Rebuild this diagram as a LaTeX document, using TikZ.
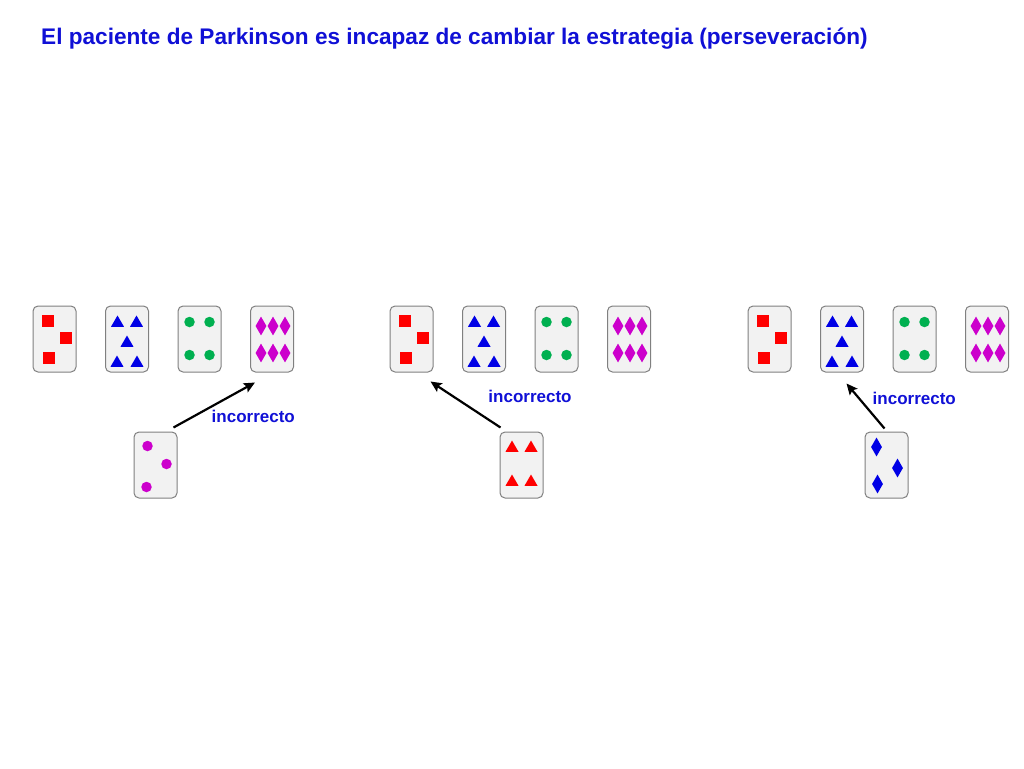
\documentclass[tikz,border=0pt]{standalone}
\usepackage{fontspec}
\setmainfont{Liberation Sans}
\usetikzlibrary{arrows.meta,%
                shapes.geometric}

\definecolor{titleblue}{RGB}{16,16,214}
\definecolor{cardgray}{RGB}{242,242,242}
\definecolor{cardline}{RGB}{128,128,128}
\definecolor{symred}{RGB}{255,0,0}
\definecolor{symblue}{RGB}{0,0,230}
\definecolor{symgreen}{RGB}{0,176,80}
\definecolor{symmag}{RGB}{204,0,204}

\tikzset{card/.style={draw=cardline,fill=cardgray,line width=1pt,rounded corners=5pt,
                      minimum width=43pt,minimum height=66pt,inner sep=0pt},
         sq/.style={fill=symred,minimum size=12pt,inner sep=0pt},
         tri/.style={regular polygon,regular polygon sides=3,fill=#1,minimum size=15pt,inner sep=0pt},
         dot/.style={circle,fill=#1,minimum size=10.5pt,inner sep=0pt},
         dia/.style={diamond,fill=#1,minimum width=11pt,minimum height=19pt,inner sep=0pt},
         choice/.style={-{Stealth[length=11pt,width=10pt,inset=2pt]},line width=2.2pt},
         wrong/.style={text=titleblue,font=\bfseries\fontsize{17}{20}\selectfont,inner sep=0pt}}

\begin{document}
\begin{tikzpicture}[x=1pt,y=-1pt]
\useasboundingbox (0,0) rectangle (1024,768);

\node[anchor=base west,inner sep=0pt,text=titleblue,font=\bfseries\fontsize{22.6}{27}\selectfont]
  (title) at (41,45) {El paciente de Parkinson es incapaz de cambiar la estrategia (perseveración)};

% the four stimulus cards, three times
\foreach \gx/\g in {0/1,357/2,715/3}{
  \node[card] (g\g a) at (54.5+\gx,339) {};
  \node[card] (g\g b) at (127+\gx,339) {};
  \node[card] (g\g c) at (199.5+\gx,339) {};
  \node[card] (g\g d) at (272+\gx,339) {};
  \foreach \dx/\dy in {-7/-18,11.5/-1,-6/19}
    \node[sq] at ([shift={(\dx,\dy)}]g\g a.center) {};
  \foreach \dx/\dy in {-9.5/-16,9.5/-16,0/4,-10/24,10/24}
    \node[tri=symblue] at ([shift={(\dx,\dy)}]g\g b.center) {};
  \foreach \dx/\dy in {-10/-17,10/-17,-10/16,10/16}
    \node[dot=symgreen] at ([shift={(\dx,\dy)}]g\g c.center) {};
  \foreach \dx in {-11,1,13}
    \foreach \dy in {-13,14}
      \node[dia=symmag] at ([shift={(\dx,\dy)}]g\g d.center) {};
}

% response cards
\node[card] (r1) at (155.5,465) {};
\foreach \dx/\dy in {-8/-19,11/-1,-9/22}
  \node[dot=symmag] at ([shift={(\dx,\dy)}]r1.center) {};

\node[card] (r2) at (521.5,465) {};
\foreach \dx/\dy in {-9.5/-17,9.5/-17,-9.5/17,9.5/17}
  \node[tri=symred] at ([shift={(\dx,\dy)}]r2.center) {};

\node[card] (r3) at (886.5,465) {};
\foreach \dx/\dy in {-10/-18,11/3,-9/19}
  \node[dia=symblue] at ([shift={(\dx,\dy)}]r3.center) {};

% sorting
\draw[choice] ([shift={(-4,-4)}]r1.north east) -- ([shift={(5,10)}]g1d.south west);
\draw[choice] ([shift={(1,-4)}]r2.north west) -- ([shift={(-3,9)}]g2a.south east);
\draw[choice] ([shift={(-2,-3)}]r3.north) -- ([shift={(4.5,11)}]g3b.south);

\node[wrong] (w1) at (253.3,416.7) {incorrecto};
\node[wrong] (w2) at (530,396.7) {incorrecto};
\node[wrong] (w3) at (914.3,398.3) {incorrecto};
\end{tikzpicture}
\end{document}
